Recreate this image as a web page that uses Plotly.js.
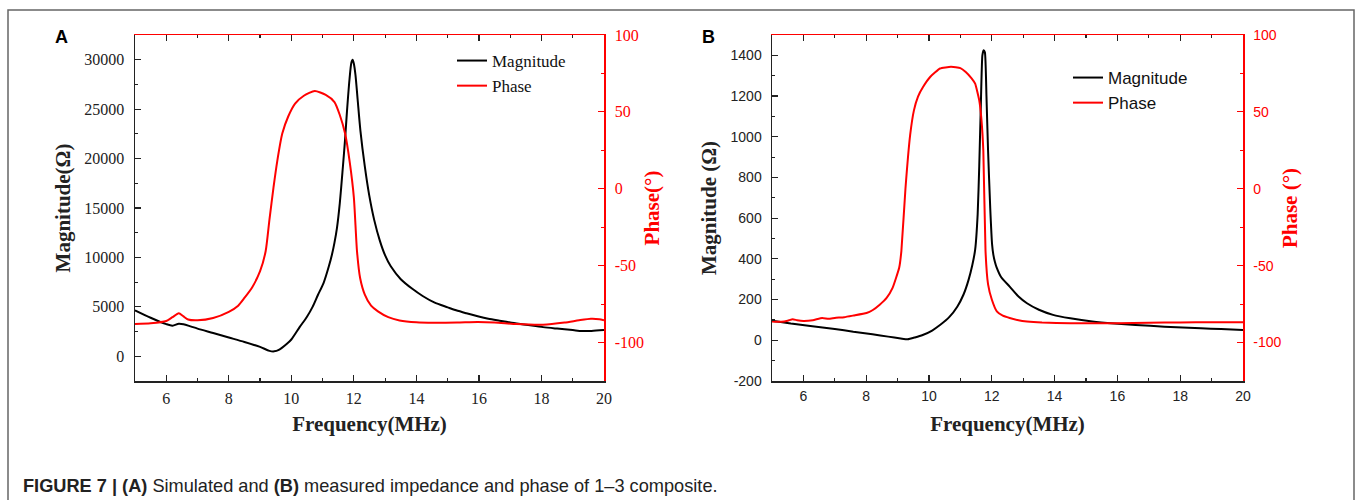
<!DOCTYPE html>
<html>
<head>
<meta charset="utf-8">
<script src="https://cdn.plot.ly/plotly-3.0.1.min.js"></script>
<style>html,body{margin:0;padding:0;background:#fff;}#chart{width:1358px;height:500px;}</style>
</head>
<body>
<div id="chart"></div>
<script>
// ---------- Panel A (simulated) ----------
const freqA = [5.0,5.5,6.0,6.2,6.4,6.55,6.8,7.0,7.5,8.0,8.5,9.0,9.3,9.45,9.6,9.85,10.0,10.27,10.5,10.68,10.85,11.03,11.2,11.3,11.38,11.46,11.55,11.65,11.72,11.78,11.86,11.92,11.96,12.0,12.05,12.12,12.21,12.35,12.49,12.65,12.83,13.0,13.18,13.5,13.88,14.2,14.57,15.0,15.27,15.6,15.96,16.3,16.66,17.0,17.5,18.05,18.5,19.0,19.3,19.6,20.0];
const magA = [4650,3900,3250,3100,3300,3250,3000,2800,2350,1900,1450,950,550,500,650,1250,1700,2970,4000,5000,6200,7400,9100,10300,11500,13000,15500,19200,22000,24800,28000,29700,30000,29600,28500,26000,22800,19200,16300,13800,11700,10200,9100,7800,6800,6100,5450,4950,4650,4350,4050,3800,3600,3420,3200,2950,2800,2650,2560,2560,2650];
const phFreqA = [5.0,5.5,6.0,6.2,6.4,6.55,6.7,7.0,7.5,8.0,8.3,8.5,8.75,9.0,9.18,9.3,9.43,9.55,9.71,9.9,10.12,10.4,10.75,11.1,11.38,11.55,11.72,11.87,12.0,12.1,12.2,12.35,12.55,12.77,13.1,13.46,14.0,14.57,15.3,15.96,16.5,17.2,18.05,18.74,19.2,19.58,19.85,20.0];
const phaseA = [-88,-87.5,-86,-83.5,-81,-83,-85,-85.5,-84,-80,-76,-71,-64,-53.6,-40.5,-20,0.85,18,35.9,47,55.4,60.5,63.6,61,56.4,48,35.9,17,-5.7,-40.5,-58,-68.8,-76,-79.7,-83.5,-85.6,-86.8,-87.1,-87,-86.7,-87,-88,-88.4,-87,-85.5,-84.5,-84.8,-85.5];

// ---------- Panel B (measured) ----------
const freqB = [5.0,5.6,6.22,7.0,7.59,8.2,8.7,9.1,9.32,9.55,9.8,10.1,10.35,10.65,10.9,11.1,11.26,11.38,11.47,11.55,11.6,11.65,11.7,11.74,11.78,11.83,11.88,11.95,12.01,12.05,12.1,12.15,12.3,12.57,12.85,13.12,13.5,13.95,14.5,15.2,15.9,16.58,17.5,18.66,19.3,20.0];
const magB = [96,82,70,56,42,30,18,9,5,14,26,48,75,115,165,225,297,370,445,620,855,1150,1400,1425,1415,1200,937,650,470,420,385,360,310,264,215,182,150,125,108,92,82,75,67,59,55,51];
const phFreqB = [5.0,5.3,5.5,5.66,5.8,6.0,6.3,6.6,6.8,7.0,7.3,7.6,8.01,8.2,8.43,8.65,8.84,9.05,9.12,9.25,9.4,9.52,9.65,9.81,10.05,10.35,10.7,11.0,11.17,11.35,11.47,11.6,11.67,11.73,11.8,11.88,12.0,12.16,12.35,12.57,12.85,13.12,13.6,14.5,15.5,16.5,17.5,18.5,19.5,20.0];
const phaseB = [-86.3,-86.5,-85.8,-84.8,-85.5,-86,-85.5,-84,-84.6,-84,-83.5,-82.4,-80.8,-79,-75.4,-71,-64.5,-51.4,-40.5,0,35,51,60,66.2,73,78.2,79.3,78.5,76,72,68.4,57.5,45,24.8,-40.5,-62,-72,-79.7,-82.5,-84,-85.5,-86.3,-87,-87.4,-87.5,-87.3,-87,-86.8,-86.8,-86.8];

// ---------- tick labels ----------
const xTicks = [6,8,10,12,14,16,18,20];
const magTicksA = [0,5000,10000,15000,20000,25000,30000];
const magLabelsA = ['0','5000','10000','15000','20000','25000','30000'];
const magTicksB = [-200,0,200,400,600,800,1000,1200,1400];
const magLabelsB = ['-200','0','200','400','600','800','1000','1200','1400'];
const phaseTicks = [-100,-50,0,50,100];
const phaseLabels = ['-100','-50','0','50','100'];
const caption = '<b>FIGURE 7 | (A)</b> Simulated and <b>(B)</b> measured impedance and phase of 1–3 composite.';

// ---------- geometry helpers (pixel -> paper) ----------
const M = {l:135, r:115, t:35, b:119};
const PW = 1358 - M.l - M.r, PH = 500 - M.t - M.b;
const px = x => (x - M.l) / PW;
const py = y => (500 - M.b - y) / PH;

const serif = 'Liberation Serif, Times New Roman, serif';
const sans = 'Liberation Sans, Arial, sans-serif';

const traces = [
  {x: freqA, y: magA, name: 'Magnitude', xaxis: 'x', yaxis: 'y', mode: 'lines',
   line: {color: '#000', width: 2, shape: 'spline', smoothing: 0.8}, legend: 'legend'},
  {x: phFreqA, y: phaseA, name: 'Phase', xaxis: 'x2', yaxis: 'y2', mode: 'lines',
   line: {color: '#ff0000', width: 2, shape: 'spline', smoothing: 0.6}, legend: 'legend'},
  {x: freqB, y: magB, name: 'Magnitude', xaxis: 'x3', yaxis: 'y3', mode: 'lines',
   line: {color: '#000', width: 2, shape: 'spline', smoothing: 0.5}, legend: 'legend2'},
  {x: phFreqB, y: phaseB, name: 'Phase', xaxis: 'x4', yaxis: 'y4', mode: 'lines',
   line: {color: '#ff0000', width: 2, shape: 'spline', smoothing: 0.4}, legend: 'legend2'}
];

function xBottom(domain, anchor, fontFam, fontSize, standoff) {
  return {domain: domain, anchor: anchor, range: [5, 20], tickmode: 'array', tickvals: xTicks, ticktext: xTicks.map(String),
    ticks: 'inside', ticklen: 6, tickcolor: '#222', tickwidth: 1.2, showline: true, linecolor: '#222', linewidth: 1.5,
    zeroline: false, showgrid: false,
    minor: {dtick: 1, tick0: 5, ticks: 'inside', ticklen: 3, tickcolor: '#222', tickwidth: 1.2, showgrid: false},
    tickfont: {family: fontFam, size: fontSize, color: '#222'}, ticklabelstandoff: 2,
    title: {text: 'Frequency(MHz)', font: {family: serif, size: 21, color: '#222', weight: 'bold'}, standoff: standoff}};
}
function xTop(domain, anchor, overlay) {
  return {domain: domain, anchor: anchor, overlaying: overlay, side: 'top', range: [5, 20], tickmode: 'array', tickvals: xTicks,
    ticks: 'inside', ticklen: 6, tickcolor: '#222', tickwidth: 1.2, showline: true, linecolor: '#ff0000', linewidth: 1.5,
    showticklabels: false, zeroline: false, showgrid: false,
    minor: {dtick: 1, tick0: 5, ticks: 'inside', ticklen: 3, tickcolor: '#222', tickwidth: 1.2, showgrid: false}};
}
function yMag(anchor, range, vals, labels, minorDt, fontFam, fontSize, titleTxt) {
  return {domain: [0, 1], anchor: anchor, range: range, tickmode: 'array', tickvals: vals, ticktext: labels,
    ticks: 'inside', ticklen: 6, tickcolor: '#222', tickwidth: 1.2, showline: true, linecolor: '#222', linewidth: 1.5,
    zeroline: false, showgrid: false,
    minor: {dtick: minorDt, tick0: 0, ticks: 'inside', ticklen: 3, tickcolor: '#222', tickwidth: 1.2, showgrid: false},
    tickfont: {family: fontFam, size: fontSize, color: '#222'}, ticklabelstandoff: 6,
    title: {text: titleTxt, font: {family: serif, size: 21, color: '#222', weight: 'bold'}, standoff: 8}};
}
function yPhase(anchor, overlay, fontFam, fontSize, titleTxt, standoff) {
  return {domain: [0, 1], anchor: anchor, overlaying: overlay, side: 'right', range: [-125, 100],
    tickmode: 'array', tickvals: phaseTicks, ticktext: phaseLabels,
    ticks: 'inside', ticklen: 6, tickcolor: '#ff0000', tickwidth: 1.2, showline: true, linecolor: '#ff0000', linewidth: 1.5,
    zeroline: false, showgrid: false,
    minor: {dtick: 25, tick0: 0, ticks: 'inside', ticklen: 3, tickcolor: '#ff0000', tickwidth: 1.2, showgrid: false},
    tickfont: {family: fontFam, size: fontSize, color: '#ff0000'}, ticklabelstandoff: 6,
    title: {text: titleTxt, font: {family: serif, size: 21, color: '#ff0000', weight: 'bold'}, standoff: standoff}};
}

const layout = {
  width: 1358, height: 500, margin: M, paper_bgcolor: '#fff', plot_bgcolor: 'rgba(0,0,0,0)',
  showlegend: true,
  xaxis: xBottom([0, px(604)], 'y', serif, 16, 10),
  xaxis2: xTop([0, px(604)], 'y2', 'x'),
  yaxis: yMag('x', [-2500, 32500], magTicksA, magLabelsA, 2500, serif, 16, 'Magnitude(Ω)'),
  yaxis2: yPhase('x2', 'y', serif, 16, 'Phase(°)', 1),

  xaxis3: xBottom([px(772), 1], 'y3', sans, 14, 13),
  xaxis4: xTop([px(772), 1], 'y4', 'x3'),
  yaxis3: yMag('x3', [-200, 1500], magTicksB, magLabelsB, 100, sans, 14, 'Magnitude (Ω)'),
  yaxis4: yPhase('x4', 'y3', sans, 14, 'Phase (°)', 2),

  legend: {x: px(452), y: py(43), xanchor: 'left', yanchor: 'top', bgcolor: 'rgba(0,0,0,0)', borderwidth: 0,
    font: {family: serif, size: 17, color: '#111'}, tracegroupgap: 0, itemwidth: 30},
  legend2: {x: px(1068), y: py(60), xanchor: 'left', yanchor: 'top', bgcolor: 'rgba(0,0,0,0)', borderwidth: 0,
    font: {family: sans, size: 17, color: '#111'}, tracegroupgap: 0, itemwidth: 30},

  annotations: [
    {text: '<b>A</b>', x: px(62), y: py(37), xref: 'paper', yref: 'paper', xanchor: 'center', yanchor: 'middle',
     showarrow: false, font: {family: sans, size: 18, color: '#000'}},
    {text: '<b>B</b>', x: px(708), y: py(37), xref: 'paper', yref: 'paper', xanchor: 'center', yanchor: 'middle',
     showarrow: false, font: {family: sans, size: 18, color: '#000'}},
    {text: caption, x: px(21), y: py(486), xref: 'paper', yref: 'paper', xanchor: 'left', yanchor: 'middle',
     showarrow: false, font: {family: sans, size: 18.2, color: '#222'}}
  ],
  shapes: [
    {type: 'rect', xref: 'paper', yref: 'paper', x0: px(8), x1: px(1354), y0: py(520), y1: py(10),
     line: {color: '#666', width: 1.5}, fillcolor: 'rgba(0,0,0,0)', layer: 'below'}
  ]
};

Plotly.newPlot('chart', traces, layout, {staticPlot: true, displayModeBar: false});
</script>
</body>
</html>
